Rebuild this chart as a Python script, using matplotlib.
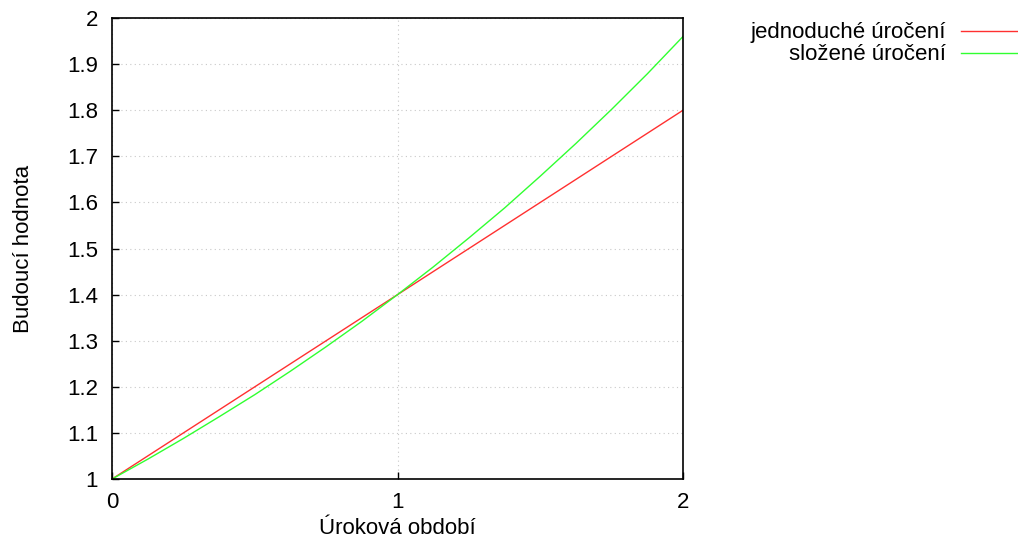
import matplotlib
matplotlib.use('Agg')
import matplotlib.pyplot as plt

plt.rcParams['font.family'] = ['Liberation Sans', 'DejaVu Sans']

# values
obdobi = [0, 0.125, 0.25, 0.375, 0.5, 0.625, 0.75, 0.875, 1.0,
          1.125, 1.25, 1.375, 1.5, 1.625, 1.75, 1.875, 2.0]
jednoduche = [1.0, 1.05, 1.10, 1.15, 1.20, 1.25, 1.30, 1.35, 1.40,
              1.45, 1.50, 1.55, 1.60, 1.65, 1.70, 1.75, 1.80]
slozene = [1.0, 1.043, 1.088, 1.135, 1.183, 1.234, 1.287, 1.342, 1.40,
           1.460, 1.523, 1.588, 1.657, 1.728, 1.802, 1.879, 1.96]

xticks = [0, 1, 2]
yticks = [1, 1.1, 1.2, 1.3, 1.4, 1.5, 1.6, 1.7, 1.8, 1.9, 2]
yticklabels = ['1', '1.1', '1.2', '1.3', '1.4', '1.5', '1.6', '1.7', '1.8', '1.9', '2']

fig = plt.figure(figsize=(10.18, 5.45), dpi=100)
ax = fig.add_axes([0.110, 0.121, 0.561, 0.846])

ax.plot(obdobi, jednoduche, color='#ff3030', lw=1, label='jednoduché úročení')
ax.plot(obdobi, slozene, color='#30ff30', lw=1, label='složené úročení')

ax.set_xlim(0, 2)
ax.set_ylim(1, 2)
ax.set_xticks(xticks)
ax.set_yticks(yticks)
ax.set_yticklabels(yticklabels)
ax.tick_params(direction='in', length=5, width=1, labelsize=16)
ax.tick_params(axis='y', pad=10)
ax.tick_params(axis='x', pad=9)
ax.grid(True, color='#c8c8c8', linestyle=(0, (1, 3)), lw=0.8)
for s in ax.spines.values():
    s.set_linewidth(1.2)

ax.set_xlabel('Úroková období', fontsize=16, labelpad=4)
ax.set_ylabel('Budoucí hodnota', fontsize=16, labelpad=24)

ax.legend(loc='upper right', bbox_to_anchor=(0.999, 0.959), bbox_transform=fig.transFigure,
          markerfirst=False, frameon=False, fontsize=16, handlelength=2.5,
          handletextpad=0.7, labelspacing=0.05, borderpad=0, borderaxespad=0)

fig.savefig('out.png', dpi=100)
